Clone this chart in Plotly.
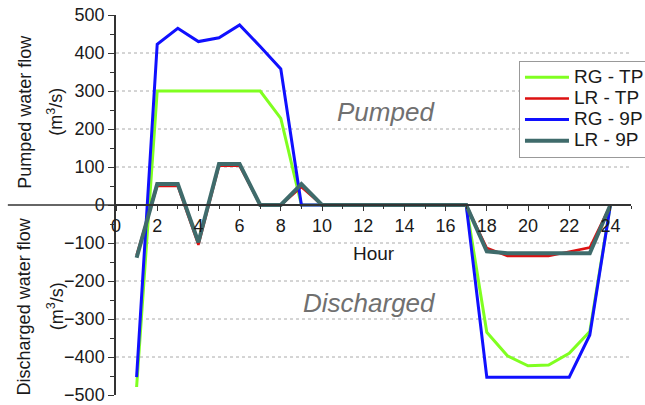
import plotly.graph_objects as go

hours = list(range(1, 25))
rg_tp = [-479, 300, 300, 300, 300, 300, 300, 228, 0, 0, 0, 0, 0, 0, 0, 0, 0,
         -335, -397, -423, -421, -390, -333, 0]
lr_tp = [-132, 50, 50, -105, 103, 103, 0, 0, 47, 0, 0, 0, 0, 0, 0, 0, 0,
         -113, -134, -134, -134, -123, -112, 0]
rg_9p = [-453, 423, 465, 430, 440, 474, 417, 358, 0, 0, 0, 0, 0, 0, 0, 0, 0,
         -453, -453, -453, -453, -453, -342, 0]
lr_9p = [-139, 55, 55, -98, 108, 108, 0, 0, 55, 0, 0, 0, 0, 0, 0, 0, 0,
         -122, -127, -127, -127, -127, -127, 0]

series_names = ["RG - TP", "LR - TP", "RG - 9P", "LR - 9P"]
series_values = [rg_tp, lr_tp, rg_9p, lr_9p]
series_colors = ["#80FF20", "#DD1111", "#1010FF", "#3F6B6B"]
series_widths = [3, 2.5, 3, 4]

grid_levels = [-400, -300, -200, -100, 100, 200, 300, 400]
y_ticks = [-500, -400, -300, -200, -100, 0, 100, 200, 300, 400, 500]

FONT = "Liberation Sans, Arial, sans-serif"

fig = go.Figure()
for name, vals, color, w in zip(series_names, series_values, series_colors, series_widths):
    fig.add_trace(go.Scatter(x=hours, y=vals, mode="lines",
                             name='<span style="font-size:19px">' + name + '</span>',
                             line=dict(color=color, width=w)))

shapes = []
for g in grid_levels:
    shapes.append(dict(type="line", xref="paper", x0=0, x1=1, yref="y", y0=g, y1=g,
                       line=dict(color="#AAAAAA", width=1, dash="dot"), layer="below"))
# separator line between the two axis titles
shapes.append(dict(type="line", xref="paper", x0=-0.21, x1=0, yref="y", y0=0, y1=0,
                   line=dict(color="#333333", width=1.5)))

title_font = dict(size=18, family=FONT, color="#1a1a1a")
big_font = dict(size=26, family=FONT, color="#707070")

fig.update_layout(
    width=645, height=405,
    margin=dict(l=116, r=14, t=15, b=10, autoexpand=False),
    paper_bgcolor="white", plot_bgcolor="white",
    font=dict(family=FONT, size=18, color="#1a1a1a"),
    showlegend=True,
    legend=dict(x=0.7825, y=0.88, xanchor="left", yanchor="top",
                bordercolor="#999999", borderwidth=1, bgcolor="white",
                font=dict(size=14, family=FONT), itemwidth=44,
                tracegroupgap=0),
    xaxis=dict(range=[0, 25], anchor="free", position=0.5, automargin=False,
               showline=True, linecolor="#333333", linewidth=1.5,
               ticks="outside", ticklen=5, tickwidth=1.2, tickcolor="#333333",
               dtick=2, tick0=0, showgrid=False, zeroline=False,
               ticklabeloverflow="allow",
               tickfont=dict(size=18, family=FONT, color="#1a1a1a"),
               minor=dict(dtick=1, ticks="outside", ticklen=3, tickcolor="#333333"),
               title=dict(text="Hour", font=dict(size=19, family=FONT), standoff=10)),
    yaxis=dict(range=[-500, 500], automargin=False,
               showline=True, linecolor="#333333", linewidth=1.5,
               ticks="outside", ticklen=6, tickwidth=1.2, tickcolor="#333333",
               tickvals=y_ticks, showgrid=False, zeroline=False,
               ticklabeloverflow="allow",
               tickfont=dict(size=18, family=FONT, color="#1a1a1a"),
               minor=dict(dtick=50, ticks="outside", ticklen=4, tickcolor="#333333")),
    shapes=shapes,
    annotations=[
        dict(text="<i>Pumped</i>", x=13.1, y=246, xref="x", yref="y", showarrow=False,
             font=big_font, xanchor="center", yanchor="middle"),
        dict(text="<i>Discharged</i>", x=12.3, y=-258, xref="x", yref="y", showarrow=False,
             font=big_font, xanchor="center", yanchor="middle"),
        dict(text="Pumped water flow", x=-0.178, y=246, xref="paper", yref="y", showarrow=False,
             textangle=-90, font=title_font, xanchor="center", yanchor="middle"),
        dict(text="(m<sup>3</sup>/s)", x=-0.118, y=246, xref="paper", yref="y", showarrow=False,
             textangle=-90, font=title_font, xanchor="center", yanchor="middle"),
        dict(text="Discharged water flow", x=-0.178, y=-266, xref="paper", yref="y", showarrow=False,
             textangle=-90, font=title_font, xanchor="center", yanchor="middle"),
        dict(text="(m<sup>3</sup>/s)", x=-0.118, y=-266, xref="paper", yref="y", showarrow=False,
             textangle=-90, font=title_font, xanchor="center", yanchor="middle"),
    ],
)

fig.write_html("out.html")
